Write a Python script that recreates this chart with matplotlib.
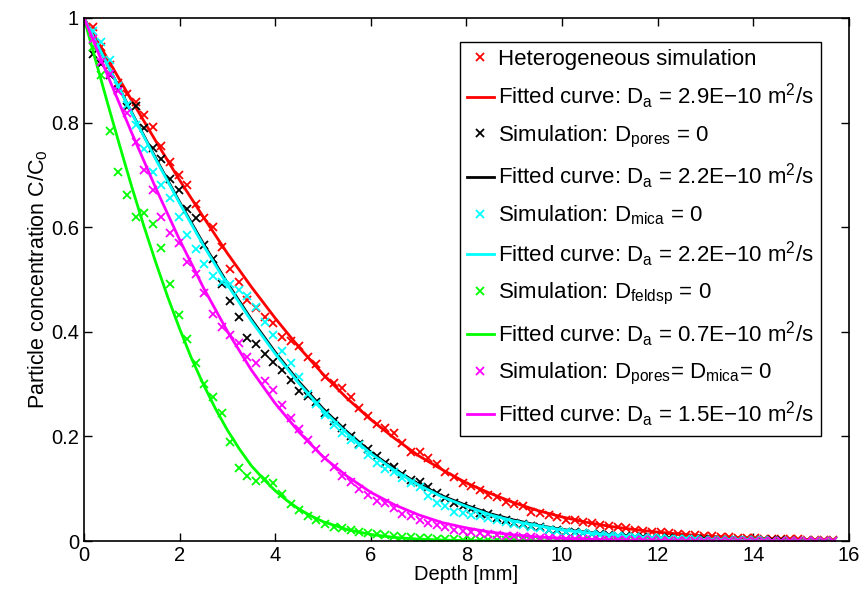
import numpy as np
import matplotlib
matplotlib.use('Agg')
import matplotlib.pyplot as plt

plt.rcParams['font.family'] = ['Liberation Sans', 'DejaVu Sans']
plt.rcParams['mathtext.fontset'] = 'custom'
plt.rcParams['mathtext.rm'] = 'Liberation Sans'
plt.rcParams['mathtext.it'] = 'Liberation Sans'
plt.rcParams['mathtext.default'] = 'regular'

# simulation depths [mm], one sample every 0.18 mm
depth = np.round(np.arange(1, 88) * 0.18, 2)

sim_het = [0.983, 0.945, 0.910, 0.875, 0.855, 0.840, 0.814, 0.792, 0.755, 0.724,
           0.700, 0.681, 0.644, 0.617, 0.601, 0.563, 0.521, 0.496, 0.461, 0.445,
           0.429, 0.417, 0.391, 0.383, 0.372, 0.352, 0.338, 0.314, 0.302, 0.292,
           0.275, 0.254, 0.239, 0.224, 0.217, 0.206, 0.188, 0.171, 0.171, 0.158,
           0.147, 0.131, 0.123, 0.110, 0.105, 0.0975, 0.088, 0.0835, 0.075, 0.071,
           0.066, 0.056, 0.054, 0.050, 0.045, 0.040, 0.041, 0.037, 0.035, 0.031,
           0.029, 0.027, 0.024, 0.022, 0.020, 0.018, 0.017, 0.015, 0.014, 0.012,
           0.011, 0.010, 0.009, 0.008, 0.0072, 0.0065, 0.0058, 0.0052, 0.0047, 0.0042,
           0.0037, 0.0033, 0.0029, 0.0026, 0.0023, 0.0020, 0.0018]

sim_pores = [0.932, 0.912, 0.891, 0.862, 0.830, 0.832, 0.789, 0.752, 0.731, 0.692,
             0.671, 0.634, 0.618, 0.566, 0.539, 0.491, 0.458, 0.429, 0.389, 0.376,
             0.357, 0.342, 0.327, 0.308, 0.287, 0.278, 0.266, 0.244, 0.230, 0.217,
             0.200, 0.186, 0.175, 0.163, 0.149, 0.142, 0.129, 0.117, 0.112, 0.103,
             0.092, 0.082, 0.073, 0.067, 0.061, 0.053, 0.051, 0.044, 0.041, 0.035,
             0.032, 0.028, 0.026, 0.022, 0.021, 0.018, 0.017, 0.015, 0.014, 0.0125,
             0.011, 0.010, 0.009, 0.008, 0.0072, 0.0065, 0.0058, 0.0052, 0.0046, 0.0041,
             0.0036, 0.0032, 0.0028, 0.0025, 0.0022, 0.0019, 0.0017, 0.0015, 0.0013, 0.0011,
             0.0010, 0.0009, 0.0008, 0.0007, 0.0006, 0.0005, 0.0004]

sim_mica = [0.975, 0.955, 0.919, 0.870, 0.834, 0.795, 0.749, 0.706, 0.680, 0.655,
            0.619, 0.585, 0.558, 0.530, 0.507, 0.496, 0.491, 0.480, 0.468, 0.448,
            0.419, 0.394, 0.364, 0.340, 0.313, 0.282, 0.262, 0.240, 0.222, 0.206,
            0.193, 0.184, 0.165, 0.149, 0.137, 0.131, 0.120, 0.110, 0.103, 0.086,
            0.072, 0.067, 0.056, 0.054, 0.050, 0.047, 0.044, 0.040, 0.036, 0.033,
            0.030, 0.027, 0.025, 0.022, 0.020, 0.018, 0.016, 0.0145, 0.013, 0.012,
            0.0105, 0.0095, 0.0085, 0.0075, 0.0065, 0.0058, 0.0050, 0.0045, 0.0040, 0.0037,
            0.0032, 0.0028, 0.0024, 0.0021, 0.0018, 0.0016, 0.0014, 0.0012, 0.0010, 0.0009,
            0.0008, 0.0007, 0.0006, 0.0005, 0.0004, 0.0004, 0.0003]

sim_feldsp = [0.945, 0.891, 0.784, 0.706, 0.662, 0.619, 0.628, 0.606, 0.561, 0.491,
              0.432, 0.386, 0.341, 0.300, 0.276, 0.245, 0.190, 0.140, 0.125, 0.115,
              0.118, 0.110, 0.090, 0.070, 0.060, 0.048, 0.040, 0.032, 0.027, 0.024,
              0.021, 0.018, 0.016, 0.014, 0.011, 0.010, 0.008, 0.007, 0.006, 0.005,
              0.004, 0.0035, 0.0030, 0.0026, 0.0022, 0.0020, 0.0017, 0.0015, 0.0013, 0.0011,
              0.0010, 0.0009, 0.0008, 0.0007, 0.0006, 0.0005, 0.0005, 0.0004, 0.0004, 0.0003,
              0.0003, 0.0003, 0.0002, 0.0002, 0.0002, 0.0002, 0.0001, 0.0001, 0.0001, 0.0001,
              0.0001, 0.0001, 0.0001, 0.0, 0.0, 0.0, 0.0, 0.0, 0.0, 0.0,
              0.0, 0.0, 0.0, 0.0, 0.0, 0.0, 0.0]

sim_pores_mica = [0.960, 0.915, 0.893, 0.860, 0.818, 0.763, 0.709, 0.672, 0.619, 0.589,
                  0.570, 0.534, 0.511, 0.475, 0.435, 0.410, 0.394, 0.379, 0.351, 0.340,
                  0.306, 0.289, 0.260, 0.235, 0.215, 0.193, 0.175, 0.158, 0.142, 0.125,
                  0.113, 0.099, 0.088, 0.077, 0.072, 0.063, 0.052, 0.047, 0.040, 0.035,
                  0.031, 0.027, 0.022, 0.020, 0.018, 0.015, 0.013, 0.011, 0.010, 0.009,
                  0.008, 0.007, 0.006, 0.005, 0.0045, 0.004, 0.0035, 0.003, 0.0026, 0.0023,
                  0.0020, 0.0018, 0.0016, 0.0014, 0.0012, 0.0010, 0.0009, 0.0008, 0.0007, 0.0006,
                  0.0006, 0.0005, 0.0005, 0.0004, 0.0004, 0.0003, 0.0003, 0.0003, 0.0002, 0.0002,
                  0.0002, 0.0002, 0.0001, 0.0001, 0.0001, 0.0001, 0.0001]

# fitted curves, read every 0.5 mm
fit_depth = [0, 0.5, 1, 1.5, 2, 2.5, 3, 3.5, 4, 4.5, 5, 5.5, 6, 6.5, 7, 7.5, 8,
             8.5, 9, 9.5, 10, 10.5, 11, 11.5, 12, 12.5, 13, 13.5, 14, 14.5, 15, 15.5, 15.7]
fit_het = [1, 0.921, 0.842, 0.765, 0.690, 0.619, 0.550, 0.486, 0.426, 0.370, 0.319,
           0.273, 0.232, 0.196, 0.163, 0.136, 0.111, 0.091, 0.073, 0.058, 0.046,
           0.036, 0.028, 0.022, 0.017, 0.013, 0.0095, 0.0072, 0.0053, 0.0040, 0.0029,
           0.0021, 0.0019]
fit_pores = [1, 0.909, 0.819, 0.732, 0.648, 0.568, 0.493, 0.424, 0.361, 0.304, 0.253,
             0.209, 0.170, 0.137, 0.109, 0.086, 0.068, 0.052, 0.040, 0.030, 0.022,
             0.017, 0.012, 0.0085, 0.006, 0.0043, 0.003, 0.002, 0.0013, 0.0009, 0.0006,
             0.0004, 0.0003]
fit_mica = [1, 0.909, 0.818, 0.730, 0.646, 0.565, 0.490, 0.421, 0.358, 0.301, 0.250,
            0.206, 0.167, 0.135, 0.107, 0.084, 0.066, 0.050, 0.038, 0.029, 0.021,
            0.016, 0.0115, 0.008, 0.0058, 0.004, 0.0028, 0.0019, 0.0012, 0.0008, 0.0005,
            0.0003, 0.0002]
fit_pores_mica = [1, 0.889, 0.780, 0.675, 0.576, 0.484, 0.401, 0.327, 0.263, 0.208, 0.161,
                  0.124, 0.093, 0.069, 0.050, 0.035, 0.025, 0.017, 0.0116, 0.0078, 0.0051,
                  0.0033, 0.0021, 0.0013, 0.0008, 0.0005, 0.0003, 0.0002, 0.0001, 0.0001, 0,
                  0, 0]

# the feldspar fit bends sharply, so it is read more densely
fit_depth_feldsp = [0, 0.25, 0.5, 0.75, 1, 1.25, 1.5, 1.75, 2, 2.25, 2.5, 2.75, 3,
                    3.25, 3.5, 3.75, 4, 4.25, 4.5, 4.75, 5, 5.5, 6, 6.5, 7, 7.5, 8,
                    9, 10, 12, 14, 15.7]
fit_feldsp = [1, 0.917, 0.835, 0.755, 0.677, 0.603, 0.533, 0.467, 0.406, 0.349, 0.299,
              0.253, 0.212, 0.176, 0.144, 0.119, 0.096, 0.077, 0.061, 0.048, 0.037,
              0.022, 0.0125, 0.0068, 0.0036, 0.0019, 0.0009, 0.0002, 0, 0, 0, 0]

series = [
    ('#ff0000', sim_het, 'Heterogeneous simulation', fit_depth, fit_het,
     r'Fitted curve: D$_a$ = 2.9E$-$10 m$^2$/s'),
    ('#000000', sim_pores, r'Simulation: D$_{pores}$ = 0', fit_depth, fit_pores,
     r'Fitted curve: D$_a$ = 2.2E$-$10 m$^2$/s'),
    ('#00ffff', sim_mica, r'Simulation: D$_{mica}$ = 0', fit_depth, fit_mica,
     r'Fitted curve: D$_a$ = 2.2E$-$10 m$^2$/s'),
    ('#00ff00', sim_feldsp, r'Simulation: D$_{feldsp}$ = 0', fit_depth_feldsp, fit_feldsp,
     r'Fitted curve: D$_a$ = 0.7E$-$10 m$^2$/s'),
    ('#ff00ff', sim_pores_mica, r'Simulation: D$_{pores}$= D$_{mica}$= 0', fit_depth, fit_pores_mica,
     r'Fitted curve: D$_a$ = 1.5E$-$10 m$^2$/s'),
]

fig = plt.figure(figsize=(8.64, 5.94), dpi=100)
ax = fig.add_axes([0.0972, 0.0892, 0.8854, 0.8805])

for col, sim, sim_lab, fx, fit, fit_lab in series:
    ax.plot(depth, sim, 'x', color=col, ms=5.5, mew=1.3, label=sim_lab)
    ax.plot(fx, fit, '-', color=col, lw=2, label=fit_lab)

ax.set_xlim(0, 16)
ax.set_ylim(0, 1)
ax.set_xticks(np.arange(0, 17, 2))
ax.set_yticks([0, 0.2, 0.4, 0.6, 0.8, 1])
ax.set_yticklabels(['0', '0.2', '0.4', '0.6', '0.8', '1'])
ax.tick_params(direction='in', length=6, width=1, top=True, right=True, labelsize=14.5)
for s in ax.spines.values():
    s.set_linewidth(1.2)

ax.set_xlabel('Depth [mm]', fontsize=14.5, labelpad=0)
ax.set_ylabel(r'Particle concentration C/C$_0$', fontsize=15.5, labelpad=1)

leg = ax.legend(loc='upper right', bbox_to_anchor=(0.963, 0.954), borderaxespad=0,
                fontsize=16, numpoints=1, handlelength=1.2, handletextpad=0.2,
                labelspacing=0.55, borderpad=0.3, fancybox=False, framealpha=1)
leg.get_frame().set_edgecolor('k')
leg.get_frame().set_linewidth(1)

fig.savefig('out.png', dpi=100)
